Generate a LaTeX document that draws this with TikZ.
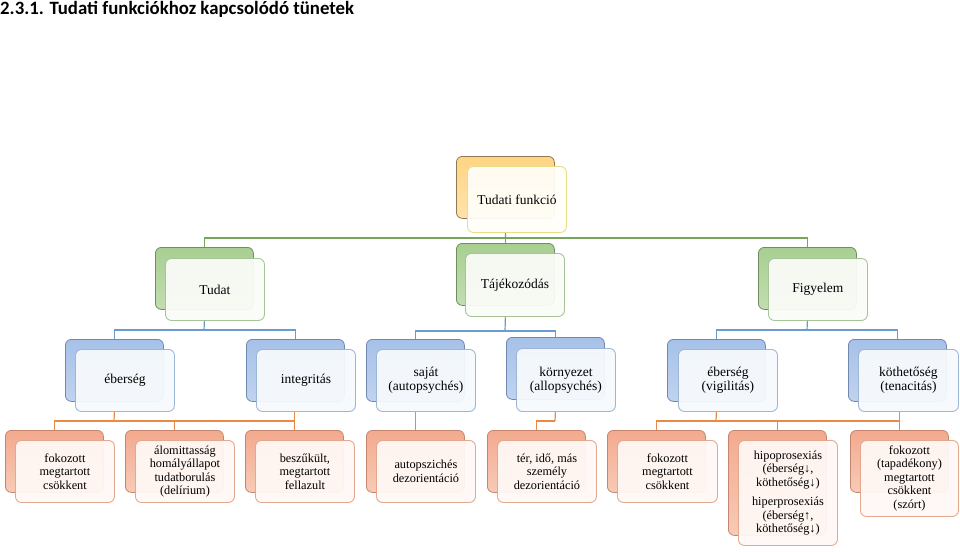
\documentclass[tikz,border=0pt]{standalone}
\usepackage{fontspec}
\setmainfont{Liberation Serif}
\newfontfamily\titlefont{Carlito}
\definecolor{yT}{HTML}{FFD484}
\definecolor{yB}{HTML}{FFE3AC}
\definecolor{yD}{HTML}{8E7B55}
\definecolor{yL}{HTML}{E9DD8C}
\definecolor{yF}{HTML}{FFFEF8}
\definecolor{gT}{HTML}{A8CF91}
\definecolor{gB}{HTML}{C2DDB2}
\definecolor{gD}{HTML}{6F8F60}
\definecolor{gL}{HTML}{A6C497}
\definecolor{gF}{HTML}{FAFCF8}
\definecolor{bT}{HTML}{A6C1E8}
\definecolor{bB}{HTML}{C0D3EF}
\definecolor{bD}{HTML}{7189AE}
\definecolor{bL}{HTML}{9DB6D8}
\definecolor{bF}{HTML}{F7FAFD}
\definecolor{oT}{HTML}{F3AA8E}
\definecolor{oB}{HTML}{F8CAB6}
\definecolor{oD}{HTML}{C58670}
\definecolor{oL}{HTML}{E3A98E}
\definecolor{oF}{HTML}{FFF8F5}
\definecolor{gLine}{HTML}{76A55B}
\definecolor{bLine}{HTML}{6C9BD2}
\definecolor{oLine}{HTML}{EC8A45}
\tikzset{
  bk/.style={draw=#1D, top color=#1T, bottom color=#1B, rounded corners=6pt,
    line width=0.8pt, anchor=north west, inner sep=0pt,
    minimum width=98pt, minimum height=62pt},
  fr/.style={draw=#1L, fill=#1F, fill opacity=0.94, text opacity=1,
    rounded corners=6pt, line width=0.9pt, anchor=north west, inner sep=0pt,
    minimum width=99pt, minimum height=62pt, align=center,
    font=\fontsize{13.5}{14}\selectfont, text=black},
  small/.style={font=\fontsize{12.3}{13.5}\selectfont},
  conn/.style={draw=#1, line width=1.2pt},
}
\begin{document}
\begin{tikzpicture}[x=1pt,y=-1pt]
\useasboundingbox (0,0) rectangle (960,551);
\node[anchor=base west, inner sep=0pt, font=\titlefont\bfseries\fontsize{18.8}{20}\selectfont] (title) at (0,14.5) {2.3.1. Tudati funkciókhoz kapcsolódó tünetek};
% level 1
\node[bk=y] (tfB) at (456,156) {};
\node[fr=y, minimum height=66pt] (tfF) at (467,166) {Tudati funkció};
% level 2
\node[bk=g] (tuB) at (155,247) {};
\node[fr=g] (tuF) at (165,258) {Tudat};
\node[bk=g] (tjB) at (456,243) {};
\node[fr=g, minimum height=63pt] (tjF) at (465,253) {Tájékozódás};
\node[bk=g] (fiB) at (758,247) {};
\node[fr=g] (fiF) at (768,258) {Figyelem};
% level 3
\node[bk=b] (ebB) at (65,339) {};
\node[fr=b] (ebF) at (75,349) {éberség};
\node[bk=b] (inB) at (246,339) {};
\node[fr=b] (inF) at (256,349) {integritás};
\node[bk=b] (saB) at (366,339) {};
\node[fr=b] (saF) at (376,349) {saját\\(autopsychés)};
\node[bk=b] (koB) at (506,337) {};
\node[fr=b, minimum height=63pt] (koF) at (516,348) {környezet\\(allopsychés)};
\node[bk=b] (viB) at (667,339) {};
\node[fr=b] (viF) at (678,349) {éberség\\(vigilitás)};
\node[bk=b] (teB) at (848,339) {};
\node[fr=b, minimum width=100pt] (teF) at (858,349) {köthetőség\\(tenacitás)};
% level 4
\node[bk=o] (f1B) at (5,430) {};
\node[fr=o, small] (f1F) at (15,440) {fokozott\\megtartott\\csökkent};
\node[bk=o] (alB) at (125,430) {};
\node[fr=o, small] (alF) at (135,440) {álomittasság\\homályállapot\\tudatborulás\\(delírium)};
\node[bk=o] (beB) at (245,430) {};
\node[fr=o, small] (beF) at (255,440) {beszűkült,\\megtartott\\fellazult};
\node[bk=o] (auB) at (366,430) {};
\node[fr=o, small] (auF) at (376,440) {autopszichés\\dezorientáció};
\node[bk=o] (trB) at (487,430) {};
\node[fr=o, small] (trF) at (497,440) {tér, idő, más\\személy\\dezorientáció};
\node[bk=o] (f2B) at (607,430) {};
\node[fr=o, small, minimum width=100pt] (f2F) at (617,440) {fokozott\\megtartott\\csökkent};
\node[bk=o, minimum height=105pt] (hpB) at (728,430) {};
\node[fr=o, small, minimum height=105pt] (hpF) at (738,440) {hipoprosexiás\\(éberség↓,\\köthetőség↓)\\[6pt]hiperprosexiás\\(éberség↑,\\köthetőség↓)};
\node[bk=o] (f3B) at (850,430) {};
\node[fr=o, small, minimum width=98pt, minimum height=76pt] (f3F) at (860,440) {fokozott\\(tapadékony)\\megtartott\\csökkent\\(szórt)};
% junctions
\coordinate (j1) at (505.5,238);
\coordinate (j2) at (204,330);
\coordinate (j3) at (505,331);
\coordinate (j4) at (807,330);
\coordinate (j5) at (114,421);
\coordinate (j6) at (555,421);
\coordinate (j7) at (716,421);
% level 1 -> 2
\draw[conn=gLine] (tfB |- tfF.south) -- (j1);
\draw[conn=gLine] (j1) -| (tuB.north);
\draw[conn=gLine] (j1) -| (tjB.north);
\draw[conn=gLine] (j1) -| (fiB.north);
% level 2 -> 3
\draw[conn=bLine] (tuB |- tuF.south) -- (j2);
\draw[conn=bLine] (j2) -| (ebB.north);
\draw[conn=bLine] (j2) -| (inB.north);
\draw[conn=bLine] (tjB |- tjF.south) -- (j3);
\draw[conn=bLine] (j3) -| (saB.north);
\draw[conn=bLine] (j3) -| (koB.north);
\draw[conn=bLine] (fiB |- fiF.south) -- (j4);
\draw[conn=bLine] (j4) -| (viB.north);
\draw[conn=bLine] (j4) -| (teB.north);
% level 3 -> 4
\draw[conn=oLine] (ebB |- ebF.south) -- (j5);
\draw[conn=oLine] (j5) -| (f1B.north);
\draw[conn=oLine] (j5) -| (alB.north);
\draw[conn=oLine] (j5) -| (beB.north);
\draw[conn=oLine] (beB.north |- inF.south) -- (beB.north);
\draw[conn=oLine] (auB.north |- saF.south) -- (auB.north);
\draw[conn=oLine] (koB |- koF.south) -- (j6);
\draw[conn=oLine] (j6) -| (trB.north);
\draw[conn=oLine] (viB |- viF.south) -- (j7);
\draw[conn=oLine] (j7) -| (f2B.north);
\draw[conn=oLine] (j7) -| (hpB.north);
\draw[conn=oLine] (j7) -| (f3B.north);
\draw[conn=oLine] (f3B.north |- teF.south) -- (f3B.north);
\end{tikzpicture}
\end{document}
